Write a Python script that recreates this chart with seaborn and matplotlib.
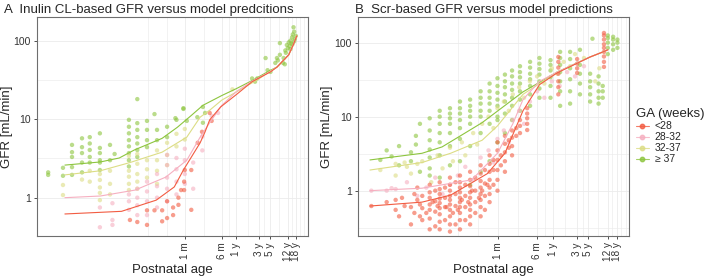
import numpy as np
import pandas as pd
import matplotlib
matplotlib.use("Agg")
import matplotlib.pyplot as plt
from matplotlib.lines import Line2D
import seaborn as sns

# ---- data: (postnatal age in days, GFR in mL/min) ----
groups = ["<28", "28-32", "32-37", "\u2265 37"]
palette = {"<28": "#F25C42", "28-32": "#F6AFC0", "32-37": "#DCDD85", "\u2265 37": "#8DC53E"}

tick_days = [30.44, 182.6, 365.25, 1095.75, 1826.25, 4383, 6574.5]
tick_labels = ["1 m", "6 m", "1 y", "3 y", "5 y", "12 y", "18 y"]

# Panel A - inulin clearance
a_red = [(2.1, 0.52), (3.0, 0.49), (4.8, 0.69), (4.8, 0.45), (6.9, 0.69), (10, 0.69), (10, 0.5),
         (12.7, 0.55), (12.7, 0.9), (17, 0.6), (17, 0.75), (22, 0.81), (22, 1.0), (25, 1.25),
         (29, 1.25), (29, 1.6), (30, 2.25), (41, 2.25), (41, 0.7), (56, 5.0), (69, 6.9),
         (100, 12), (110, 9.5)]
a_pink = [(0.49, 0.42), (0.49, 0.75), (0.9, 0.52), (0.9, 0.45), (0.9, 0.85), (2.0, 0.9), (2.0, 1.1),
          (2.0, 0.7), (3.0, 0.6), (3.0, 0.8), (3.0, 1.0), (3.0, 1.3), (4.8, 0.6), (4.8, 0.9),
          (4.8, 1.2), (4.8, 1.6), (7.8, 0.75), (7.8, 1.0), (7.8, 1.4), (7.8, 2.0), (12.7, 0.9),
          (12.7, 1.3), (12.7, 1.8), (12.7, 2.6), (12.7, 3.5), (20, 1.1), (20, 1.6), (20, 2.3),
          (20, 3.2), (30, 1.5), (30, 2.0), (30, 3.0), (30, 4.2), (45, 1.3), (45, 2.8), (70, 4.0),
          (70, 6.0), (110, 11), (150, 12)]
a_yellow = [(0.082, 1.45), (0.082, 1.08), (0.206, 1.7), (0.3, 2.2), (0.3, 1.6), (0.49, 1.68),
            (0.49, 1.35), (0.49, 1.15), (0.49, 0.93), (0.49, 2.0), (0.8, 1.5), (0.8, 2.2), (0.8, 1.1),
            (2.0, 1.85), (2.0, 1.5), (2.0, 1.25), (2.0, 2.2), (2.0, 3.4), (3.0, 2.7), (3.0, 2.0),
            (3.0, 1.6), (3.0, 1.3), (3.0, 3.6), (4.8, 3.0), (4.8, 2.3), (4.8, 1.8), (7.8, 4.0),
            (7.8, 3.0), (7.8, 2.2), (7.8, 1.5), (12.7, 5.0), (12.7, 3.5), (12.7, 2.6), (20, 6.5),
            (20, 4.5), (30, 7.5), (30, 5.5), (300, 24)]
a_green = [(0.04, 2.1), (0.04, 1.95), (0.082, 2.4), (0.082, 1.9), (0.127, 4.7), (0.127, 3.8),
           (0.127, 3.3), (0.127, 2.45), (0.127, 1.95), (0.206, 5.7), (0.206, 4.4), (0.206, 3.7),
           (0.206, 2.8), (0.206, 2.1), (0.3, 5.9), (0.3, 4.9), (0.3, 4.05), (0.3, 3.3), (0.3, 2.8),
           (0.49, 6.6), (0.49, 4.3), (0.49, 3.7), (0.49, 3.0), (0.49, 2.8), (0.49, 2.25), (0.8, 4.7),
           (0.8, 3.0), (1.0, 3.6), (2.0, 9.8), (2.0, 8.0), (2.0, 6.6), (2.0, 5.4), (2.0, 4.5),
           (2.0, 3.7), (2.0, 3.0), (2.0, 2.5), (3.0, 18), (3.0, 8.9), (3.0, 7.3), (3.0, 5.9),
           (3.0, 4.9), (3.0, 4.05), (3.0, 3.3), (4.8, 9.5), (4.8, 7.3), (4.8, 5.4), (4.8, 4.4),
           (6.9, 11.6), (7.8, 7.3), (7.8, 5.4), (12.7, 8.0), (12.7, 5.9), (20, 9.8), (19, 10.3),
           (28, 13.5), (28, 13.8), (33, 9.5), (55, 10.6), (72, 14.3), (72, 9.0), (80, 12),
           (780, 33), (1000, 33), (900, 30), (1650, 42), (1900, 40), (1500, 60), (2400, 52),
           (2600, 60), (2700, 56), (3000, 66), (3000, 93), (3500, 52), (3600, 60), (3800, 50),
           (3900, 75), (4000, 70), (4200, 88), (4400, 80), (4600, 95), (4800, 85), (5000, 100),
           (5000, 78), (5200, 92), (5400, 110), (5500, 90), (5600, 120), (5800, 148), (6000, 98),
           (6000, 130), (6200, 105), (6500, 115)]

a_pred_red = [(0.09, 0.62), (1.4, 0.67), (7.5, 0.93), (18, 1.37), (28, 2.25), (63, 5.0), (80, 6.9),
              (100, 9.8), (170, 14.3), (380, 21), (780, 30), (1900, 40), (2600, 46), (4600, 66),
              (5800, 90), (6800, 115)]
a_pred_pink = [(0.09, 1.0), (0.5, 1.05), (2.7, 1.25), (12, 1.83), (33, 3.0), (63, 5.9), (100, 9),
               (180, 15), (365, 22.5), (780, 30.5), (1900, 40.5), (2600, 46), (4600, 66),
               (5800, 90), (6800, 115)]
a_pred_yellow = [(0.09, 1.95), (0.5, 2.2), (2.1, 2.8), (10, 3.8), (33, 5.9), (63, 10.6), (100, 13),
                 (180, 17.5), (310, 21), (1000, 31.6), (1900, 41), (2600, 46), (4600, 66),
                 (5800, 90), (6800, 115)]
a_pred_green = [(0.09, 2.6), (0.5, 2.85), (1.25, 3.2), (2.6, 4.05), (10, 5.7), (21, 7.9), (40, 11),
                (72, 15), (180, 20), (365, 24.5), (780, 31), (1900, 42), (2600, 46), (4600, 66),
                (5800, 90), (6800, 115)]

# Panel B - serum creatinine
b_red = [(0.1, 0.62), (0.2, 0.7), (0.3, 0.55), (0.3, 0.75), (0.35, 0.45), (0.4, 0.8), (0.45, 0.62),
         (0.6, 0.35), (0.6, 0.6), (0.7, 0.9), (0.7, 0.5), (0.8, 0.75), (0.8, 1.1), (0.9, 0.45),
         (0.9, 0.65), (1.0, 0.4), (1.0, 0.58), (1.0, 0.85), (1.2, 0.5), (1.4, 0.3), (1.4, 0.42),
         (1.4, 0.55), (1.4, 0.65), (1.4, 0.8), (1.4, 0.95), (1.4, 1.2), (1.6, 0.7), (1.8, 0.33),
         (1.8, 0.52), (1.8, 0.72), (1.8, 1.0), (2.0, 0.62), (2.2, 0.3), (2.2, 0.38), (2.2, 0.48),
         (2.2, 0.58), (2.2, 0.68), (2.2, 0.78), (2.2, 0.9), (2.2, 1.05), (2.2, 1.3), (2.8, 0.4),
         (2.8, 0.6), (2.8, 0.8), (2.8, 1.1), (3.0, 0.6), (3.5, 0.28), (3.5, 0.35), (3.5, 0.45),
         (3.5, 0.55), (3.5, 0.65), (3.5, 0.75), (3.5, 0.85), (3.5, 1.0), (3.5, 1.2), (3.5, 1.5),
         (4.0, 0.5), (4.5, 0.35), (4.5, 0.62), (4.5, 0.9), (4.5, 1.3), (5.0, 0.55), (5.5, 0.3),
         (5.5, 0.4), (5.5, 0.5), (5.5, 0.6), (5.5, 0.7), (5.5, 0.8), (5.5, 0.95), (5.5, 1.1),
         (5.5, 1.3), (5.5, 1.6), (6.0, 0.75), (7, 0.4), (7, 0.6), (7, 0.85), (7, 1.2), (8.0, 0.7),
         (8.7, 0.35), (8.7, 0.45), (8.7, 0.55), (8.7, 0.65), (8.7, 0.8), (8.7, 0.95), (8.7, 1.15),
         (8.7, 1.4), (8.7, 1.8), (9.5, 1.0), (11, 0.5), (11, 0.7), (11, 1.0), (11, 1.5), (13, 0.8),
         (14, 0.45), (14, 0.6), (14, 0.75), (14, 0.9), (14, 1.1), (14, 1.35), (14, 1.7), (14, 2.2),
         (15, 1.0), (17, 0.55), (17, 0.85), (17, 1.25), (17, 1.9), (19, 1.2), (21, 0.7), (21, 0.9),
         (21, 1.1), (21, 1.4), (21, 1.8), (21, 2.3), (21, 3.0), (25, 1.2), (25, 1.9), (25, 2.6),
         (30, 1.0), (30, 1.4), (30, 1.9), (30, 2.6), (30, 3.5), (30, 4.5), (35, 2.2), (35, 3.0),
         (42, 1.8), (42, 2.5), (42, 3.3), (42, 4.3), (42, 5.5), (50, 3.8), (50, 4.8), (58, 3.0),
         (58, 4.0), (58, 5.2), (58, 6.5), (70, 5.5), (70, 7.0), (83, 6.0), (83, 7.5), (83, 9.0),
         (115, 6.6), (115, 8.0), (115, 9.5), (115, 11), (115, 13), (470, 20), (470, 25), (470, 30),
         (470, 38), (470, 46), (470, 55), (470, 64), (1100, 39), (1100, 45), (1100, 52), (1100, 60),
         (3700, 47), (3700, 55), (3700, 65), (3700, 75), (3700, 85), (3700, 95), (3700, 110),
         (3700, 125), (3700, 135)]
b_pink = [(0.1, 1.0), (0.2, 1.0), (0.25, 1.08), (0.3, 1.05), (0.5, 1.3), (0.8, 0.85), (1.2, 1.1),
          (1.8, 1.5), (2.5, 0.9), (3.5, 1.2), (5.0, 1.6), (7.0, 2.1), (10, 1.4), (14, 2.8), (20, 3.5),
          (25, 2.4), (30, 5.0), (40, 6.5), (50, 4.5), (60, 9.0), (80, 12), (100, 8.0), (130, 16),
          (180, 22), (250, 18), (350, 30), (500, 26), (700, 40), (1000, 35), (1500, 48)]
b_yellow = [(0.15, 1.9), (0.3, 1.6), (0.3, 2.3), (0.45, 2.4), (0.5, 2.1), (0.6, 1.7), (0.8, 2.3),
            (1.0, 2.5), (1.5, 1.3), (2.0, 3.0), (2.5, 2.0), (3.5, 3.8), (4.0, 2.5), (6.0, 4.5),
            (7.0, 3.0), (10, 6.0), (12, 4.2), (15, 8.0), (20, 10), (25, 7.0), (30, 13), (40, 16),
            (50, 12), (60, 20), (80, 25), (100, 18), (130, 30), (180, 35), (250, 28), (350, 45),
            (450, 38), (600, 55), (800, 48), (1000, 70), (1500, 62), (2500, 30), (3000, 45)]
b_green = [(0.15, 2.6), (0.2, 3.5), (0.25, 2.9), (0.35, 2.2), (0.35, 4.0), (0.6, 2.5), (0.6, 3.3),
           (0.75, 4.2), (0.75, 5.5), (0.9, 1.8), (0.9, 8.0), (1.4, 2.0), (1.4, 2.8), (1.4, 3.6),
           (1.4, 4.8), (1.4, 6.5), (1.4, 9.5), (1.4, 1.6), (2.2, 1.5), (2.2, 3.0), (2.2, 4.5),
           (2.2, 6.0), (2.2, 8.0), (2.2, 10), (2.2, 12), (3.5, 2.2), (3.5, 4.0), (3.5, 6.0),
           (3.5, 8.0), (3.5, 9.5), (3.5, 11), (3.5, 13), (5.5, 2.5), (5.5, 5.0), (5.5, 7.0),
           (5.5, 9.0), (5.5, 11), (5.5, 13), (5.5, 16), (8.7, 1.2), (8.7, 4.0), (8.7, 8.0),
           (8.7, 10), (8.7, 12), (8.7, 14), (8.7, 17), (14, 1.8), (14, 6.0), (14, 10), (14, 12),
           (14, 15), (14, 18), (14, 22), (21, 2.5), (21, 8.0), (21, 12), (21, 15), (21, 18),
           (21, 22), (21, 28), (30, 4.5), (30, 9.0), (30, 10), (30, 14), (30, 17), (30, 21),
           (30, 26), (30, 33), (42, 6.0), (42, 11), (42, 16), (42, 20), (42, 25), (42, 30),
           (42, 37), (58, 9.0), (58, 14), (58, 18), (58, 23), (58, 28), (58, 35), (58, 42),
           (83, 12), (83, 17), (83, 22), (83, 28), (83, 34), (83, 40), (83, 48), (131, 14),
           (131, 20), (131, 26), (131, 32), (131, 38), (131, 46), (131, 55), (200, 18), (200, 24),
           (200, 30), (200, 37), (200, 44), (200, 52), (200, 62), (330, 18), (330, 26), (330, 34),
           (330, 42), (330, 50), (330, 58), (510, 14), (510, 22), (510, 30), (510, 40), (510, 50),
           (510, 62), (510, 75), (800, 15), (800, 22), (800, 32), (800, 45), (800, 60), (800, 75),
           (1250, 20), (1250, 28), (1250, 38), (1250, 50), (1250, 80), (1980, 16), (1980, 20),
           (1980, 25), (1980, 30), (1980, 38), (2200, 113), (2900, 15), (2900, 18), (2900, 22),
           (2900, 28), (2900, 35), (3500, 18), (3500, 22), (3500, 26), (4400, 70), (4400, 85),
           (4400, 100), (4400, 115), (4400, 125), (5600, 80), (5600, 95), (5600, 110), (5600, 120),
           (6800, 85), (6800, 100), (6800, 110)]

b_pred_red = [(0.094, 0.62), (0.99, 0.70), (3.6, 0.87), (19, 1.7), (42, 3.2), (95, 12), (200, 27),
              (445, 39), (1980, 64), (3560, 75), (4400, 80)]
b_pred_pink = [(0.094, 1.0), (0.99, 1.08), (9.4, 1.4), (30, 3.2), (60, 8), (95, 17), (200, 30),
               (445, 40), (1980, 64), (3560, 75), (4400, 80)]
b_pred_yellow = [(0.094, 1.9), (0.99, 2.4), (3.6, 3.2), (15, 4.8), (30, 7.5), (95, 20), (445, 40),
                 (1980, 64), (3560, 75), (4400, 80)]
b_pred_green = [(0.094, 2.6), (0.99, 3.2), (2.45, 3.9), (6.9, 6.0), (15, 8.3), (21.5, 10),
                (95, 21.6), (445, 40), (1980, 64), (3560, 75), (4400, 80)]


def frame(parts):
    rows = []
    for ga, pts in parts:
        for age, gfr in pts:
            rows.append((ga, age, gfr))
    return pd.DataFrame(rows, columns=["ga", "age", "gfr"])


pts_a = frame([("\u2265 37", a_green), ("32-37", a_yellow), ("28-32", a_pink), ("<28", a_red)])
pred_a = frame([("\u2265 37", a_pred_green), ("32-37", a_pred_yellow), ("28-32", a_pred_pink), ("<28", a_pred_red)])
pts_b = frame([("\u2265 37", b_green), ("32-37", b_yellow), ("28-32", b_pink), ("<28", b_red)])
pred_b = frame([("\u2265 37", b_pred_green), ("32-37", b_pred_yellow), ("28-32", b_pred_pink), ("<28", b_pred_red)])

sns.set_theme(style="white")
plt.rcParams["font.family"] = ["Liberation Sans", "DejaVu Sans"]

fig = plt.figure(figsize=(7.08, 2.76), dpi=100)
ax_a = fig.add_axes([37 / 708, 40 / 276, 271 / 708, 219 / 276])
ax_b = fig.add_axes([358 / 708, 40 / 276, 271 / 708, 219 / 276])


def minor_positions(majors, lo, hi):
    # ggplot-style minor breaks: midpoints of majors, plus one extended step on each side
    lb = np.log10(majors)
    lb = np.concatenate([[lb[0] - (lb[1] - lb[0])], lb, [lb[-1] + (lb[-1] - lb[-2])]])
    mids = (lb[:-1] + lb[1:]) / 2
    vals = 10 ** np.concatenate([lb, mids])
    return [v for v in vals if lo < v < hi]


def style(ax, xlim, ylim, ylab_x):
    ax.set_xscale("log")
    ax.set_yscale("log")
    ax.set_xlim(*xlim)
    ax.set_ylim(*ylim)
    ax.set_xticks(tick_days)
    ax.set_xticklabels(tick_labels, rotation=90, fontsize=7.2, color="#333333")
    ax.set_xticks(minor_positions(tick_days, *xlim), minor=True)
    ax.set_yticks([1, 10, 100])
    ax.set_yticklabels(["1", "10", "100"], fontsize=7.5, color="#333333")
    ax.set_yticks([v for v in [0.316, 3.16, 31.6, 316] if ylim[0] < v < ylim[1]], minor=True)
    ax.tick_params(axis="both", which="major", length=2.5, width=0.6, color="#333333", pad=2,
                   bottom=True, left=True)
    ax.tick_params(axis="both", which="minor", length=0, labelbottom=False, labelleft=False)
    ax.grid(True, which="major", color="#EBEBEB", lw=0.6)
    ax.grid(True, which="minor", color="#EBEBEB", lw=0.45)
    ax.set_axisbelow(True)
    for sp in ax.spines.values():
        sp.set_color("#6E6E6E")
        sp.set_linewidth(0.8)
    ax.set_xlabel("Postnatal age", fontsize=9.5, labelpad=2)
    ax.set_ylabel("GFR [mL/min]", fontsize=9.5)
    ax.yaxis.set_label_coords(ylab_x, 0.5)


for ax, pts, pred in [(ax_a, pts_a, pred_a), (ax_b, pts_b, pred_b)]:
    sns.scatterplot(data=pts, x="age", y="gfr", hue="ga", palette=palette, s=10, alpha=0.6,
                    linewidth=0, legend=False, ax=ax)
    sns.lineplot(data=pred, x="age", y="gfr", hue="ga", palette=palette, hue_order=groups[::-1],
                 estimator=None, lw=0.8, legend=False, ax=ax)

style(ax_a, (0.0233, 11700), (0.325, 200), -0.088)
style(ax_b, (0.0547, 11480), (0.244, 222), -0.092)

fig.text(4 / 708, 1 - 10 / 276, "A  Inulin CL-based GFR versus model predcitions", fontsize=9.5, va="center")
fig.text(355 / 708, 1 - 10 / 276, "B  Scr-based GFR versus model predictions", fontsize=9.5, va="center")

handles = [Line2D([0], [0], color=palette[g], lw=0.8, marker="o", markersize=3.2, alpha=0.8) for g in groups]
leg = fig.legend(handles, groups, title="GA (weeks)", loc="upper left", bbox_to_anchor=(632 / 708, 1 - 104 / 276),
                 frameon=False, fontsize=7.5, title_fontsize=9.5, handlelength=1.2, handletextpad=0.6,
                 labelspacing=0.1, borderaxespad=0)
leg._legend_box.align = "left"

fig.savefig("out.png", dpi=100)
